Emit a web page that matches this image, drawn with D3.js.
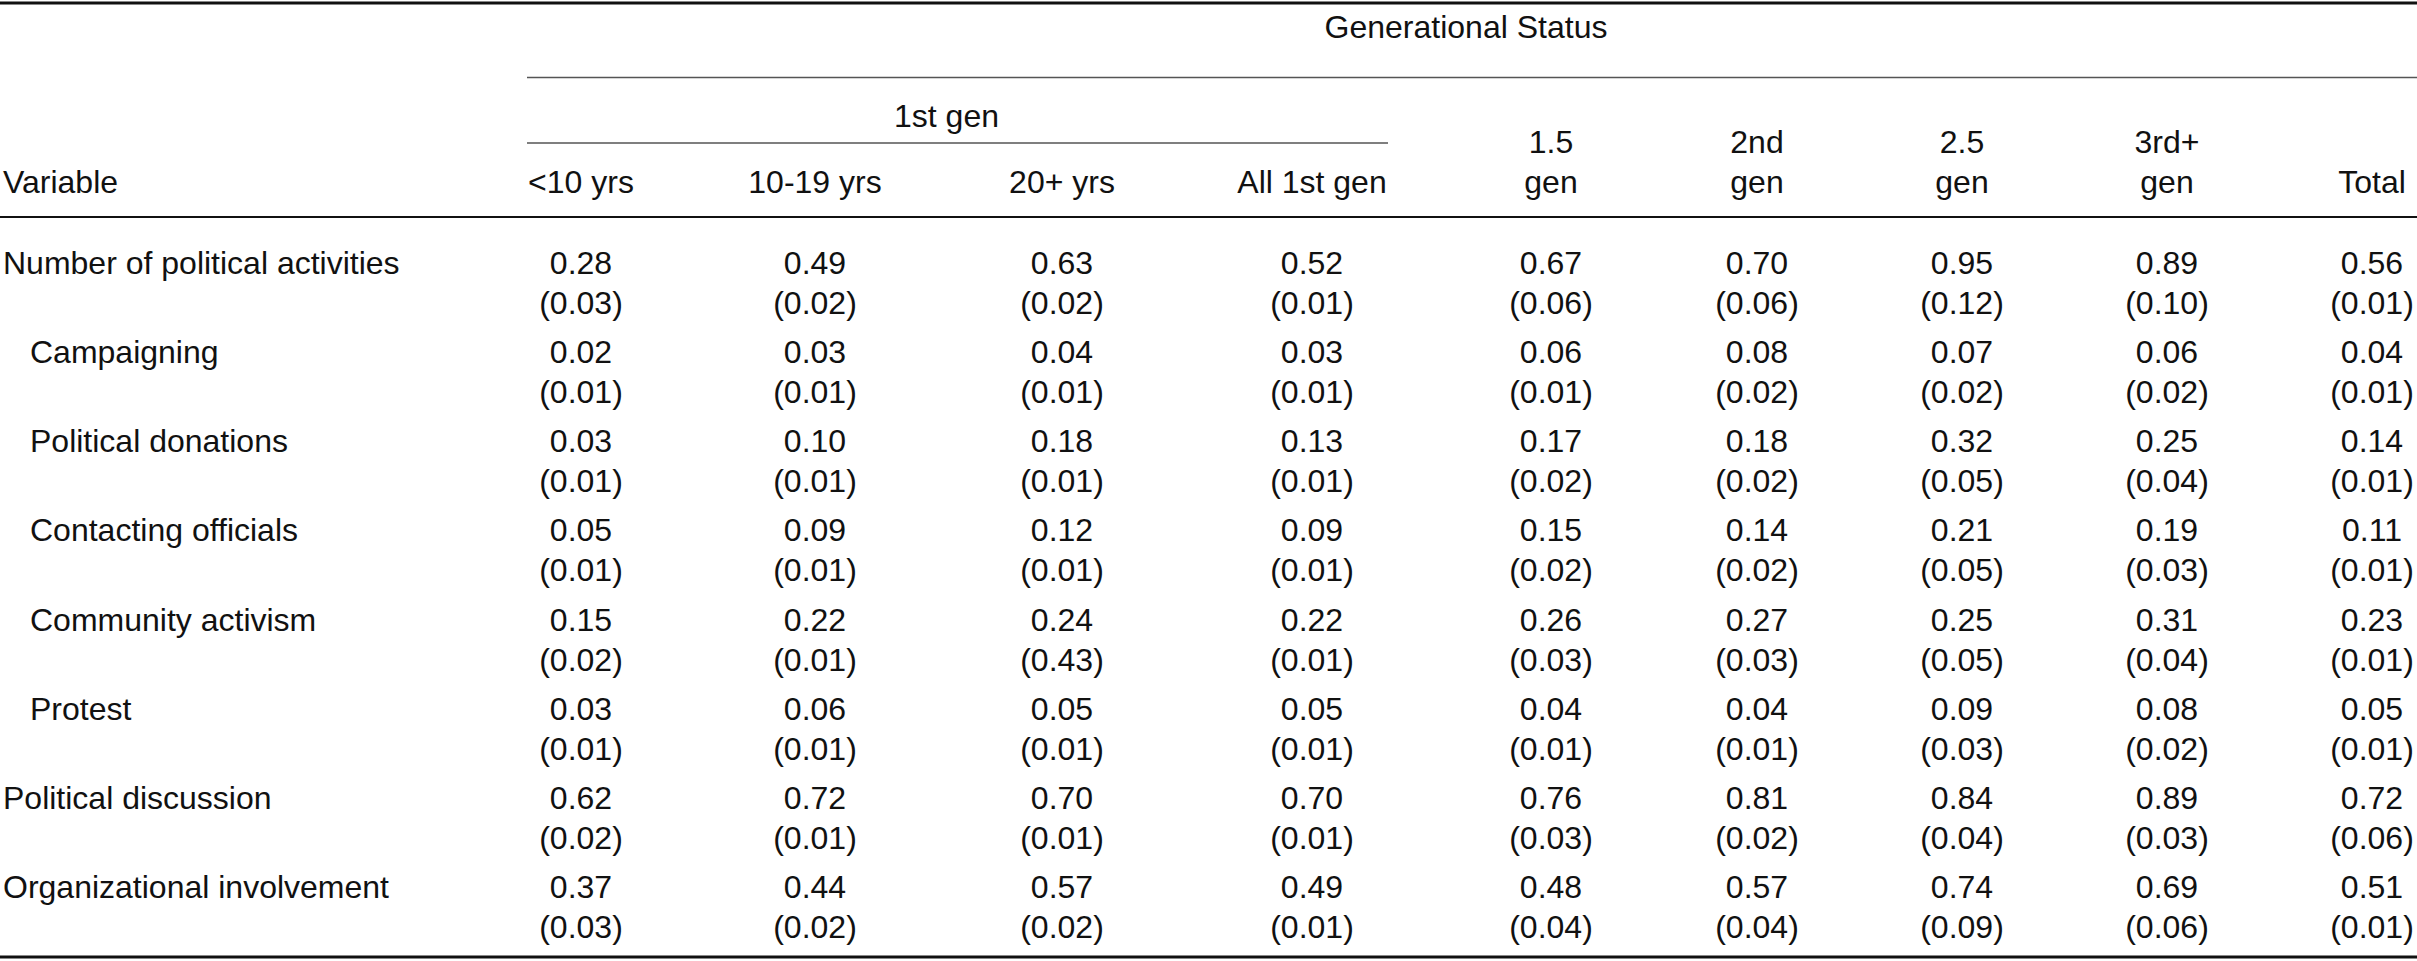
<!DOCTYPE html>
<html>
<head>
<meta charset="utf-8">
<script src="https://cdn.jsdelivr.net/npm/d3@7"></script>
<style>
  body { margin: 0; background: #fff; }
  svg text { font-family: "Liberation Sans", Arial, sans-serif; fill: #111; }
</style>
</head>
<body>
<div id="chart"></div>
<script>
var columns = ["<10 yrs", "10-19 yrs", "20+ yrs", "All 1st gen", "1.5 gen", "2nd gen", "2.5 gen", "3rd+ gen", "Total"];
var headerLines = [["<10 yrs"], ["10-19 yrs"], ["20+ yrs"], ["All 1st gen"], ["1.5", "gen"], ["2nd", "gen"], ["2.5", "gen"], ["3rd+", "gen"], ["Total"]];
var firstGenCols = ["<10 yrs", "10-19 yrs", "20+ yrs", "All 1st gen"];
var rowLabels = ["Number of political activities", "Campaigning", "Political donations", "Contacting officials",
                 "Community activism", "Protest", "Political discussion", "Organizational involvement"];
var subRows = ["Campaigning", "Political donations", "Contacting officials", "Community activism", "Protest"];

var estimates = [
  [0.28, 0.49, 0.63, 0.52, 0.67, 0.70, 0.95, 0.89, 0.56],
  [0.02, 0.03, 0.04, 0.03, 0.06, 0.08, 0.07, 0.06, 0.04],
  [0.03, 0.10, 0.18, 0.13, 0.17, 0.18, 0.32, 0.25, 0.14],
  [0.05, 0.09, 0.12, 0.09, 0.15, 0.14, 0.21, 0.19, 0.11],
  [0.15, 0.22, 0.24, 0.22, 0.26, 0.27, 0.25, 0.31, 0.23],
  [0.03, 0.06, 0.05, 0.05, 0.04, 0.04, 0.09, 0.08, 0.05],
  [0.62, 0.72, 0.70, 0.70, 0.76, 0.81, 0.84, 0.89, 0.72],
  [0.37, 0.44, 0.57, 0.49, 0.48, 0.57, 0.74, 0.69, 0.51]
];
var stdErrors = [
  [0.03, 0.02, 0.02, 0.01, 0.06, 0.06, 0.12, 0.10, 0.01],
  [0.01, 0.01, 0.01, 0.01, 0.01, 0.02, 0.02, 0.02, 0.01],
  [0.01, 0.01, 0.01, 0.01, 0.02, 0.02, 0.05, 0.04, 0.01],
  [0.01, 0.01, 0.01, 0.01, 0.02, 0.02, 0.05, 0.03, 0.01],
  [0.02, 0.01, 0.43, 0.01, 0.03, 0.03, 0.05, 0.04, 0.01],
  [0.01, 0.01, 0.01, 0.01, 0.01, 0.01, 0.03, 0.02, 0.01],
  [0.02, 0.01, 0.01, 0.01, 0.03, 0.02, 0.04, 0.03, 0.06],
  [0.03, 0.02, 0.02, 0.01, 0.04, 0.04, 0.09, 0.06, 0.01]
];

var width = 2417, height = 961, fontSize = 32, lineGap = 40;
var fmt = d3.format(".2f");

var svg = d3.select("#chart").append("svg")
    .attr("width", width)
    .attr("height", height);

// column centres (spacing is uneven in the original)
var xScale = d3.scaleOrdinal()
    .domain(columns)
    .range([581, 815, 1062, 1312, 1551, 1757, 1962, 2167, 2372]);

var yScale = d3.scaleBand()
    .domain(rowLabels)
    .range([220, 933]);

var spanLeft = 527, firstGenRight = 1388;

function rule(x1, x2, y, w, color) {
  svg.append("line")
      .attr("x1", x1).attr("x2", x2)
      .attr("y1", y).attr("y2", y)
      .attr("stroke", color || "#111")
      .attr("stroke-width", w);
}

// rules
rule(0, width, 3, 3);
rule(spanLeft, width, 77.5, 1.6, "#555");
rule(spanLeft, firstGenRight, 143, 1.6, "#555");
rule(0, width, 217, 1.8);
rule(0, width, 957, 3);

// spanning headers
svg.append("text").attr("x", (spanLeft + width) / 2 - 6).attr("y", 38)
    .attr("text-anchor", "middle").attr("font-size", fontSize).text("Generational Status");
svg.append("text").attr("x", (xScale(firstGenCols[0]) + xScale(firstGenCols[3])) / 2).attr("y", 127)
    .attr("text-anchor", "middle").attr("font-size", fontSize).text("1st gen");

// column headers
var headBase = 193;
svg.append("text").attr("x", 3).attr("y", headBase)
    .attr("font-size", fontSize).text("Variable");

svg.selectAll(".head")
    .data(columns)
    .enter().append("text")
    .attr("class", "head")
    .attr("text-anchor", "middle")
    .attr("font-size", fontSize)
    .each(function(d, i) {
      var lines = headerLines[i];
      var t = d3.select(this);
      lines.forEach(function(l, j) {
        t.append("tspan")
            .attr("x", xScale(d))
            .attr("y", headBase - (lines.length - 1 - j) * lineGap)
            .text(l);
      });
    });

// row labels
svg.selectAll(".rowlabel")
    .data(rowLabels)
    .enter().append("text")
    .attr("class", "rowlabel")
    .attr("x", d => subRows.includes(d) ? 30 : 3)
    .attr("y", d => yScale(d) + 54)
    .attr("font-size", fontSize)
    .text(d => d);

// cells: estimate with standard error below
rowLabels.forEach(function(r, ri) {
  var g = svg.append("g");
  g.selectAll(".est")
      .data(estimates[ri])
      .enter().append("text")
      .attr("x", (d, i) => xScale(columns[i]))
      .attr("y", yScale(r) + 54)
      .attr("text-anchor", "middle")
      .attr("font-size", fontSize)
      .text(d => fmt(d));
  g.selectAll(".se")
      .data(stdErrors[ri])
      .enter().append("text")
      .attr("x", (d, i) => xScale(columns[i]))
      .attr("y", yScale(r) + 54 + lineGap)
      .attr("text-anchor", "middle")
      .attr("font-size", fontSize)
      .text(d => "(" + fmt(d) + ")");
});
</script>
</body>
</html>
